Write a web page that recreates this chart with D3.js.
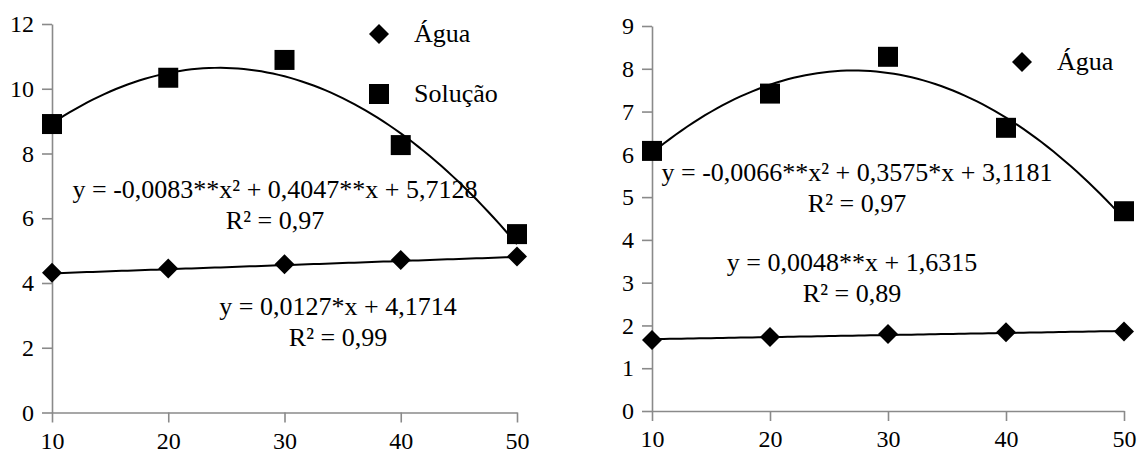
<html>
<head>
<meta charset="utf-8">
<script src="https://d3js.org/d3.v7.min.js"></script>
<style>
  body { margin: 0; background: #fff; }
  svg text { font-family: 'Liberation Serif', serif; fill: #000; }
</style>
</head>
<body>
<svg id="chart"></svg>
<script>
// values
const doses = [10, 20, 30, 40, 50];
const xTicks = [10, 20, 30, 40, 50];

const aguaA = [4.32, 4.45, 4.58, 4.71, 4.82];
const solucaoA = [8.91, 10.34, 10.89, 8.26, 5.51];
const yTicksA = [0, 2, 4, 6, 8, 10, 12];

const aguaB = [1.66, 1.73, 1.80, 1.84, 1.86];
const solucaoB = [6.08, 7.42, 8.28, 6.62, 4.67];
const yTicksB = [0, 1, 2, 3, 4, 5, 6, 7, 8, 9];

// trendline coefficients as printed (c2, c1, c0)
const fitSolucaoA = [-0.0083, 0.4047, 5.7128];
const fitAguaA = [0, 0.0127, 4.1714];
const fitSolucaoB = [-0.0066, 0.3575, 3.1181];
const fitAguaB = [0, 0.0048, 1.6315];

const eqSolucaoA = ["y = -0,0083**x² + 0,4047**x + 5,7128", "R² = 0,97"];
const eqAguaA = ["y = 0,0127*x + 4,1714", "R² = 0,99"];
const eqSolucaoB = ["y = -0,0066**x² + 0,3575*x + 3,1181", "R² = 0,97"];
const eqAguaB = ["y = 0,0048**x + 1,6315", "R² = 0,89"];

const W = 1138, H = 454;
const FONT = "Liberation Serif";
const svg = d3.select("#chart").attr("width", W).attr("height", H);

const diamond = "M0,-10L10,0L0,10L-10,0Z";
const square = "M-10,-10H10V10H-10Z";

function panel(p) {
  const x = d3.scaleLinear().domain([10, 50]).range(p.xr);
  const y = d3.scaleLinear().domain([0, p.ymax]).range(p.yr);
  const g = svg.append("g");

  // x labels sit a little higher than in the original so they are not clipped
  const ax = g.append("g").attr("transform", "translate(0," + p.yr[0] + ")")
    .call(d3.axisBottom(x).tickValues(xTicks).tickSize(10).tickSizeOuter(0).tickPadding(9));
  const ay = g.append("g").attr("transform", "translate(" + p.xr[0] + ",0)")
    .call(d3.axisLeft(y).tickValues(p.yTicks).tickSize(10).tickSizeOuter(0).tickPadding(8));
  [ax, ay].forEach(a => {
    a.attr("font-family", FONT).attr("font-size", 24);
    a.selectAll("path, line").attr("stroke", "#8a8a8a").attr("stroke-width", 1.6);
    a.selectAll("text").attr("fill", "#000").style("font-family", FONT);
  });

  const line = d3.line().x(d => x(d));
  const xs = d3.range(10, 50.01, 0.5);
  p.fits.forEach(c => {
    g.append("path")
      .datum(xs)
      .attr("fill", "none")
      .attr("stroke", "#000")
      .attr("stroke-width", 2)
      .attr("d", line.y(d => y(c[0] * d * d + c[1] * d + c[2])));
  });

  p.series.forEach(s => {
    g.selectAll(null).data(s.values).enter().append("path")
      .attr("d", s.shape)
      .attr("fill", "#000")
      .attr("transform", (d, i) => "translate(" + x(doses[i]) + "," + y(d) + ")");
  });

  p.legend.forEach(l => {
    g.append("path").attr("d", l.shape).attr("fill", "#000")
      .attr("transform", "translate(" + l.x + "," + l.y + ")");
    g.append("text").attr("x", l.x + 35).attr("y", l.y + 8)
      .attr("font-family", FONT).attr("font-size", 26).text(l.label);
  });

  p.eqs.forEach(e => {
    e.lines.forEach((t, i) => {
      g.append("text").attr("x", e.x).attr("y", e.y + i * 31)
        .attr("text-anchor", "middle")
        .attr("font-family", FONT).attr("font-size", 26).text(t);
    });
  });
}

panel({
  xr: [52, 517], yr: [412.5, 24], ymax: 12, yTicks: yTicksA,
  fits: [fitSolucaoA, fitAguaA],
  series: [{ values: solucaoA, shape: square }, { values: aguaA, shape: diamond }],
  legend: [{ shape: diamond, x: 379, y: 34, label: "Água" }, { shape: square, x: 379, y: 94, label: "Solução" }],
  eqs: [{ lines: eqSolucaoA, x: 275, y: 198 }, { lines: eqAguaA, x: 338, y: 315 }]
});

panel({
  xr: [652, 1124], yr: [411, 26], ymax: 9, yTicks: yTicksB,
  fits: [fitSolucaoB, fitAguaB],
  series: [{ values: solucaoB, shape: square }, { values: aguaB, shape: diamond }],
  legend: [{ shape: diamond, x: 1022, y: 62, label: "Água" }],
  eqs: [{ lines: eqSolucaoB, x: 857, y: 181 }, { lines: eqAguaB, x: 852, y: 271 }]
});
</script>
</body>
</html>
